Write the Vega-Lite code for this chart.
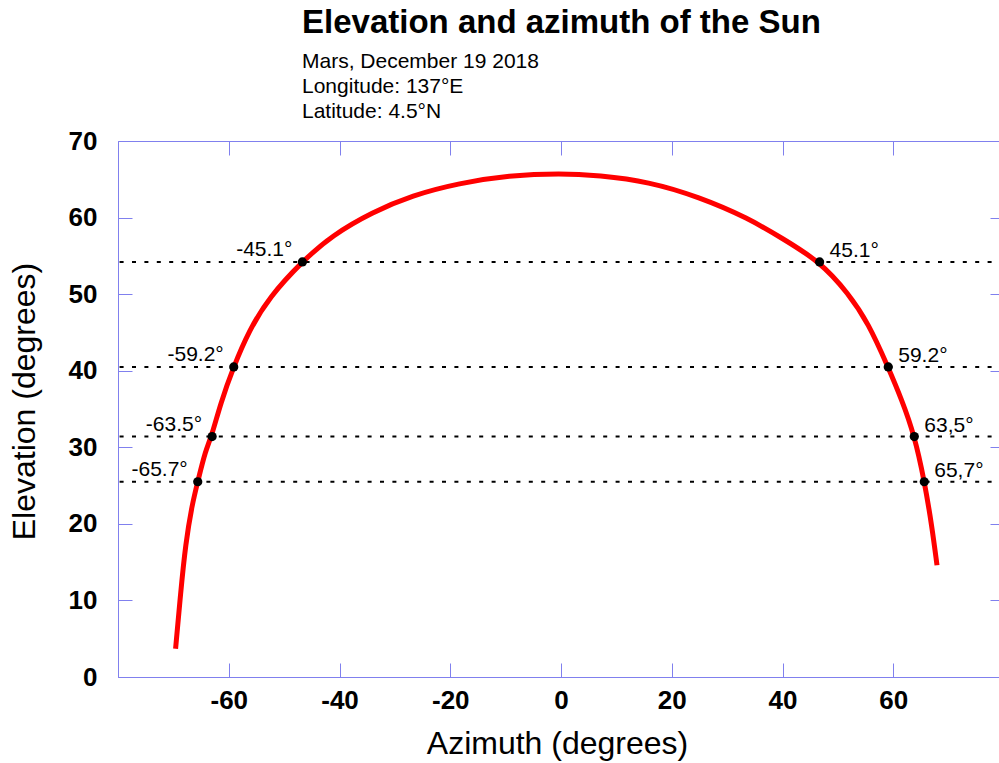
{
  "$schema": "https://vega.github.io/schema/vega-lite/v6.json",
  "width": 886,
  "height": 536,
  "autosize": {"type": "none"},
  "padding": {"left": 118, "top": 141, "right": 0, "bottom": 86},
  "background": "white",
  "config": {
    "font": "Liberation Sans",
    "view": {"stroke": "#8080ee", "strokeWidth": 1},
    "axis": {
      "grid": false,
      "domainColor": "#8080ee",
      "tickColor": "#8080ee",
      "tickSize": -14,
      "tickWidth": 1,
      "labelFont": "Liberation Sans",
      "labelFontSize": 26,
      "labelFontWeight": "bold",
      "labelColor": "black",
      "titleFont": "Liberation Sans",
      "titleFontSize": 32,
      "titleFontWeight": "normal",
      "titleColor": "black"
    }
  },
  "title": {
    "text": "Elevation and azimuth of the Sun",
    "subtitle": ["Mars, December 19 2018", "Longitude: 137°E", "Latitude: 4.5°N"],
    "anchor": "start",
    "frame": "group",
    "dx": 184,
    "font": "Liberation Sans",
    "fontSize": 33,
    "fontWeight": "bold",
    "color": "black",
    "subtitleFont": "Liberation Sans",
    "subtitleFontSize": 21,
    "subtitleColor": "black",
    "subtitleLineHeight": 25,
    "subtitlePadding": 11,
    "offset": 6
  },
  "datasets": {
    "curve": [
      {"az": -69.6, "el": 3.7}, {"az": -68.7, "el": 10.9}, {"az": -67.8, "el": 17.4},
      {"az": -66.6, "el": 22.6}, {"az": -65.6, "el": 25.5}, {"az": -64.2, "el": 29.6},
      {"az": -63.1, "el": 31.4}, {"az": -61.5, "el": 35.7}, {"az": -59.2, "el": 40.4},
      {"az": -56.3, "el": 45.3}, {"az": -52.7, "el": 49.6}, {"az": -46.7, "el": 54.3},
      {"az": -41.3, "el": 57.7}, {"az": -34.1, "el": 60.7}, {"az": -26.9, "el": 62.9},
      {"az": -18.4, "el": 64.5}, {"az": -9.4, "el": 65.5}, {"az": 0, "el": 65.8},
      {"az": 6.8, "el": 65.5}, {"az": 15.8, "el": 64.7}, {"az": 24.9, "el": 62.7},
      {"az": 33.9, "el": 59.9}, {"az": 39.9, "el": 57.3}, {"az": 46.7, "el": 54.3},
      {"az": 51.9, "el": 50.1}, {"az": 55.5, "el": 46.2}, {"az": 59.0, "el": 40.6},
      {"az": 61.6, "el": 36.1}, {"az": 63.8, "el": 31.6}, {"az": 65.6, "el": 25.7},
      {"az": 67.0, "el": 19.6}, {"az": 67.9, "el": 14.6}
    ],
    "levels": [
      {"el": 54.2}, {"el": 40.5}, {"el": 31.4}, {"el": 25.5}
    ],
    "marks": [
      {"az": -46.7, "el": 54.2, "label": "-45.1°", "side": "left"},
      {"az": -59.1, "el": 40.5, "label": "-59.2°", "side": "left"},
      {"az": -63.0, "el": 31.4, "label": "-63.5°", "side": "left"},
      {"az": -65.6, "el": 25.5, "label": "-65.7°", "side": "left"},
      {"az": 46.7, "el": 54.2, "label": "45.1°", "side": "right"},
      {"az": 59.1, "el": 40.5, "label": "59.2°", "side": "right"},
      {"az": 63.8, "el": 31.4, "label": "63,5°", "side": "right"},
      {"az": 65.6, "el": 25.5, "label": "65,7°", "side": "right"}
    ]
  },
  "resolve": {"axis": {"x": "independent", "y": "independent"}},
  "layer": [
    {
      "data": {"name": "levels"},
      "mark": {"type": "rule", "color": "black", "strokeWidth": 2, "strokeDash": [4, 8.4]},
      "encoding": {
        "y": {
          "field": "el", "type": "quantitative",
          "scale": {"domain": [0, 70], "nice": false},
          "axis": {"orient": "right", "labels": false, "title": null, "values": [10, 20, 30, 40, 50, 60], "domain": false}
        }
      }
    },
    {
      "data": {"name": "curve"},
      "mark": {"type": "line", "color": "#ff0000", "strokeWidth": 5, "interpolate": "basis"},
      "encoding": {
        "x": {
          "field": "az", "type": "quantitative",
          "scale": {"domain": [-80, 80], "nice": false},
          "axis": {"orient": "bottom", "title": "Azimuth (degrees)", "values": [-60, -40, -20, 0, 20, 40, 60], "labelExpr": "datum.value < 0 ? '-' + abs(datum.value) : datum.label", "labelPadding": 24, "titlePadding": 15, "titleX": 439}
        },
        "y": {
          "field": "el", "type": "quantitative",
          "scale": {"domain": [0, 70], "nice": false},
          "axis": {"orient": "left", "title": "Elevation (degrees)", "values": [0, 10, 20, 30, 40, 50, 60, 70], "labelPadding": 35, "titlePadding": 27, "titleY": 260}
        }
      }
    },
    {
      "data": {"name": "marks"},
      "mark": {"type": "circle", "color": "black", "opacity": 1, "size": 85},
      "encoding": {
        "x": {
          "field": "az", "type": "quantitative",
          "scale": {"domain": [-80, 80], "nice": false},
          "axis": {"orient": "top", "labels": false, "title": null, "values": [-60, -40, -20, 0, 20, 40, 60], "domain": false}
        },
        "y": {"field": "el", "type": "quantitative", "scale": {"domain": [0, 70], "nice": false}, "axis": null}
      }
    },
    {
      "data": {"name": "marks"},
      "transform": [{"filter": "datum.side === 'left'"}],
      "mark": {"type": "text", "align": "right", "baseline": "alphabetic", "dx": -10, "dy": -6, "fontSize": 21, "font": "Liberation Sans", "color": "black"},
      "encoding": {
        "x": {"field": "az", "type": "quantitative", "scale": {"domain": [-80, 80], "nice": false}, "axis": null},
        "y": {"field": "el", "type": "quantitative", "scale": {"domain": [0, 70], "nice": false}, "axis": null},
        "text": {"field": "label"}
      }
    },
    {
      "data": {"name": "marks"},
      "transform": [{"filter": "datum.side === 'right'"}],
      "mark": {"type": "text", "align": "left", "baseline": "alphabetic", "dx": 10, "dy": -5, "fontSize": 21, "font": "Liberation Sans", "color": "black"},
      "encoding": {
        "x": {"field": "az", "type": "quantitative", "scale": {"domain": [-80, 80], "nice": false}, "axis": null},
        "y": {"field": "el", "type": "quantitative", "scale": {"domain": [0, 70], "nice": false}, "axis": null},
        "text": {"field": "label"}
      }
    }
  ]
}
